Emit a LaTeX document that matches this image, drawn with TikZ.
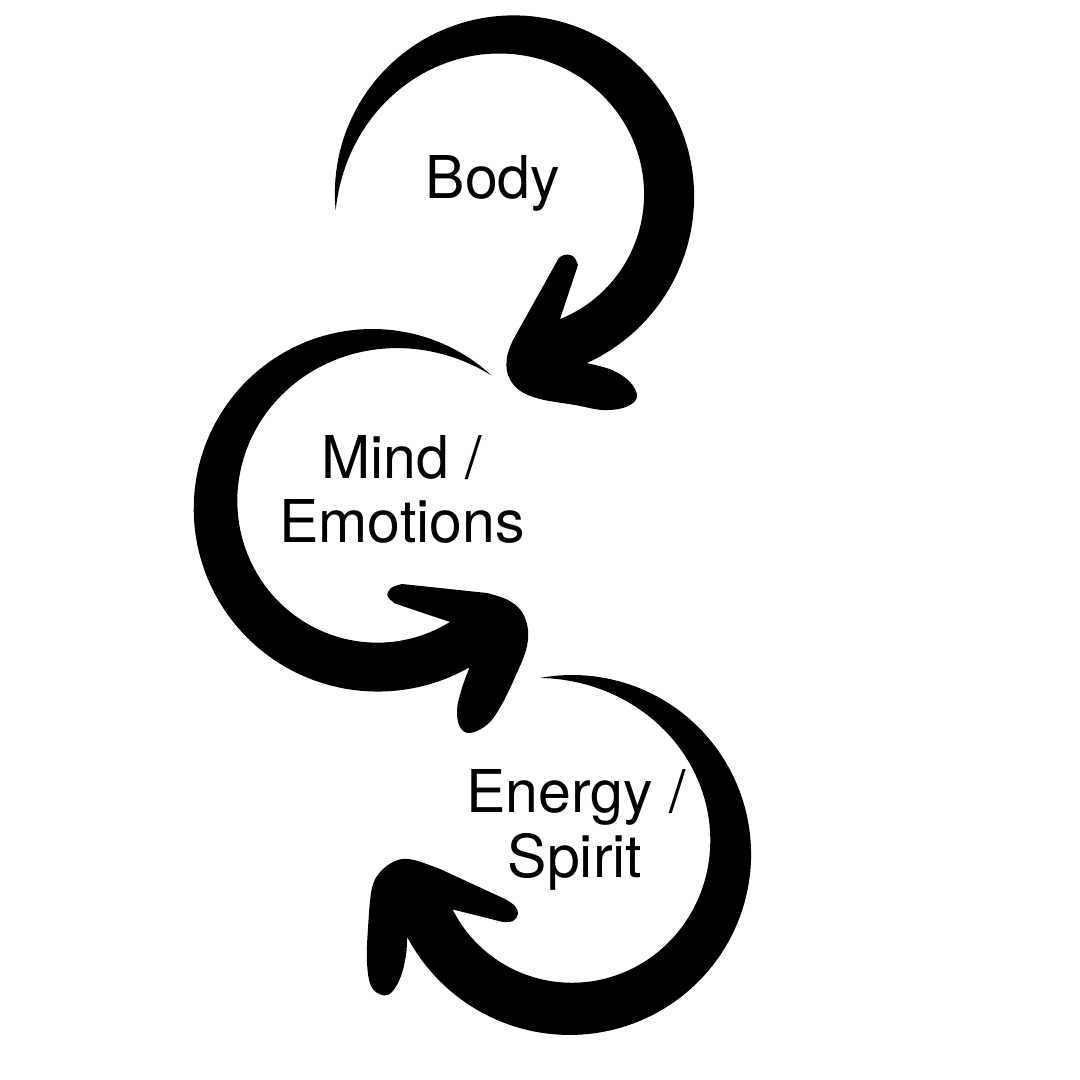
\documentclass[tikz,border=0pt]{standalone}
\usepackage{fontspec}
\setmainfont{TeX Gyre Heros}
\begin{document}
\begin{tikzpicture}[x=1pt,y=-1pt,
  brush/.style={fill=black},
  lbl/.style={font=\fontsize{59}{64}\selectfont, anchor=base, inner sep=0pt},
  declare function={
    sa(\t)=(\t-175)/252;   ca(\t)=1-min(sa(\t),1);
    roa(\t)=177+7*sa(\t);  ria(\t)=roa(\t)-51*(1-ca(\t)*ca(\t)*ca(\t));
    sb(\t)=(-48.3-\t)/252.1; cb(\t)=1-min(sb(\t),1);
    rob(\t)=175+12*sb(\t); rib(\t)=rob(\t)-49*(1-cb(\t)*cb(\t)*cb(\t));
    sc(\t)=(\t-259.6)/253.4; cc(\t)=1-min(sc(\t),1);
    roc(\t)=178+7*sc(\t)*sc(\t); ric(\t)=roc(\t)-53*(1-cc(\t)*cc(\t)*cc(\t));
  }]
\useasboundingbox[fill=white] (0,0) rectangle (1080,1080);

% Arrow 1 (Body)
\fill[brush] plot[domain=175:426, samples=120, variable=\t] ({512+roa(\t)*cos(\t)}, {195+roa(\t)*sin(\t)})
  -- plot[smooth, tension=0.6] coordinates {(586.8,363.1) (612,370) (630,382) (637,397) (626,407) (603,410) (575,405) (540,399) (519,390) (508,375) (507,357) (513,340)}
  -- (556,263)
  -- plot[smooth, tension=0.6] coordinates {(556,263) (560,257) (567,254.5) (574,257) (578,265)}
  -- (558,325)
  -- plot[domain=430:175, samples=120, variable=\t] ({512+ria(\t)*cos(\t)}, {195+ria(\t)*sin(\t)})
  -- cycle;

% Arrow 2 (Mind / Emotions)
\fill[brush] plot[domain=-48.3:-300.4, samples=120, variable=\t] ({375+rob(\t)*cos(\t)}, {506+rob(\t)*sin(\t)})
  -- plot[smooth, tension=0.6] coordinates {(469.6,667.3) (462,688) (457,710) (460,727) (470,733) (488,724) (502,704) (516,675) (526,650) (528,630) (522,612) (508,600) (487,593)}
  -- (402,584)
  -- plot[smooth, tension=0.6] coordinates {(402,584) (391,588) (387.5,596) (395,603.5)}
  -- (453,623)
  -- plot[domain=-304:-48.3, samples=120, variable=\t] ({375+rib(\t)*cos(\t)}, {506+rib(\t)*sin(\t)})
  -- cycle;

% Arrow 3 (Energy / Spirit)
\fill[brush] plot[domain=259.6:513, samples=120, variable=\t] ({572+roc(\t)*cos(\t)}, {853+roc(\t)*sin(\t)})
  -- plot[smooth, tension=0.6] coordinates {(407.2,937) (406,955) (401,976) (392,992) (382,995) (371,986) (367,962) (368,928) (372,888) (382,870) (398,860) (414,860) (440,869)}
  -- (505,899)
  -- plot[smooth, tension=0.6] coordinates {(505,899) (515,906) (518,914) (513,921) (503,922)}
  -- (447,908)
  -- plot[domain=517:259.6, samples=120, variable=\t] ({572+ric(\t)*cos(\t)}, {853+ric(\t)*sin(\t)})
  -- cycle;

% Labels
\node[lbl] (body) at (493,198) {Body};
\node[lbl] (mind) at (402,478) {Mind /};
\node[lbl] (emot) at (402,542) {Emotions};
\node[lbl] (energy) at (576,812) {Energy /};
\node[lbl] (spirit) at (575,877) {Spirit};
\end{tikzpicture}
\end{document}
